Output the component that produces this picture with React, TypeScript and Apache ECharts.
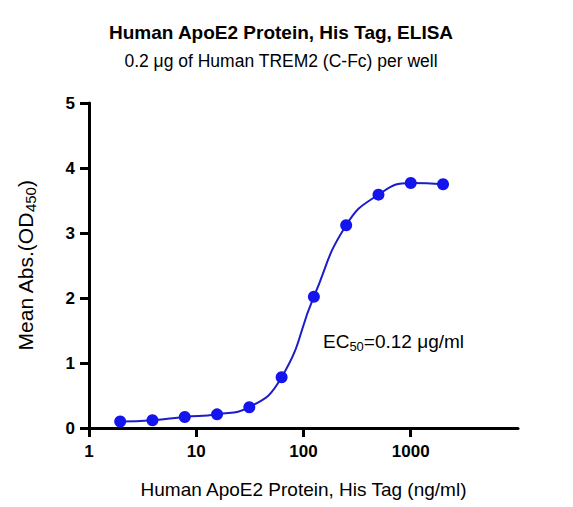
import { useEffect, useRef } from "react";
import * as echarts from "echarts";

// concentration (ng/ml) and mean OD450
const concentrations = [1.953, 3.906, 7.813, 15.63, 31.25, 62.5, 125, 250, 500, 1000, 2000];
const meanAbs = [0.1, 0.12, 0.17, 0.21, 0.32, 0.78, 2.02, 3.12, 3.59, 3.77, 3.75];
const xTicks = [1, 10, 100, 1000];

const FONT = "Arial, 'Liberation Sans', sans-serif";
const BLUE = "#1414ee";
const LINE_BLUE = "#1c1cc8";

export default function App() {
  const ref = useRef<HTMLDivElement>(null);

  useEffect(() => {
    document.body.style.margin = "0";
    if (!ref.current) return;
    const chart = echarts.init(ref.current, undefined, { renderer: "svg" });
    const points = concentrations.map((c, i) => [c, meanAbs[i]]);

    chart.setOption({
      animation: false,
      backgroundColor: "#ffffff",
      textStyle: { fontFamily: FONT },
      title: [
        {
          text: "Human ApoE2 Protein, His Tag, ELISA",
          left: 276,
          top: 18,
          textAlign: "center",
          textStyle: { fontSize: 19, fontWeight: "bold", color: "#000", fontFamily: FONT },
        },
        {
          text: "0.2 μg of Human TREM2 (C-Fc) per well",
          left: 276,
          top: 47,
          textAlign: "center",
          textStyle: { fontSize: 17.5, fontWeight: "normal", color: "#000", fontFamily: FONT },
        },
      ],
      grid: { left: 89, right: 55, top: 103, bottom: 79 },
      xAxis: {
        type: "log",
        logBase: 10,
        min: 1,
        max: 10000,
        name: "Human ApoE2 Protein, His Tag (ng/ml)",
        nameLocation: "middle",
        nameGap: 52,
        nameTextStyle: { fontSize: 19, color: "#000", fontFamily: FONT },
        axisLine: { lineStyle: { color: "#000", width: 3 } },
        axisTick: { length: 9, lineStyle: { color: "#000", width: 3 }, customValues: xTicks },
        axisLabel: {
          customValues: xTicks,
          margin: 15,
          fontSize: 17,
          fontWeight: "bold",
          color: "#000",
          fontFamily: FONT,
          formatter: (v: number) => String(v),
        },
        splitLine: { show: false },
        minorTick: { show: false },
      },
      yAxis: {
        type: "value",
        min: 0,
        max: 5,
        interval: 1,
        name: "Mean Abs.(OD{sub|450})",
        nameLocation: "middle",
        nameGap: 51,
        nameTextStyle: {
          fontSize: 21,
          color: "#000",
          fontFamily: FONT,
          rich: {
            sub: { fontSize: 15, color: "#000", fontFamily: FONT, padding: [10, 0, 0, 0] },
          },
        },
        axisLine: { show: true, lineStyle: { color: "#000", width: 3 } },
        axisTick: { show: true, length: 9, lineStyle: { color: "#000", width: 3 } },
        axisLabel: { margin: 14, fontSize: 17, fontWeight: "bold", color: "#000", fontFamily: FONT },
        splitLine: { show: false },
      },
      graphic: [
        {
          type: "text",
          left: 323,
          top: 332,
          style: {
            text: "{n|EC}{sub|50}{n|=0.12 μg/ml}",
            fill: "#000",
            rich: {
              n: { fontSize: 19, fontFamily: FONT, fill: "#000" },
              sub: { fontSize: 13, fontFamily: FONT, fill: "#000", padding: [10, 0, 0, 0] },
            },
          },
        },
      ],
      series: [
        {
          type: "line",
          data: points,
          smooth: 0.5,
          symbol: "circle",
          symbolSize: 12,
          itemStyle: { color: BLUE },
          lineStyle: { color: LINE_BLUE, width: 2 },
        },
      ],
    });

    return () => chart.dispose();
  }, []);

  return <div ref={ref} style={{ width: 573, height: 507 }} />;
}
